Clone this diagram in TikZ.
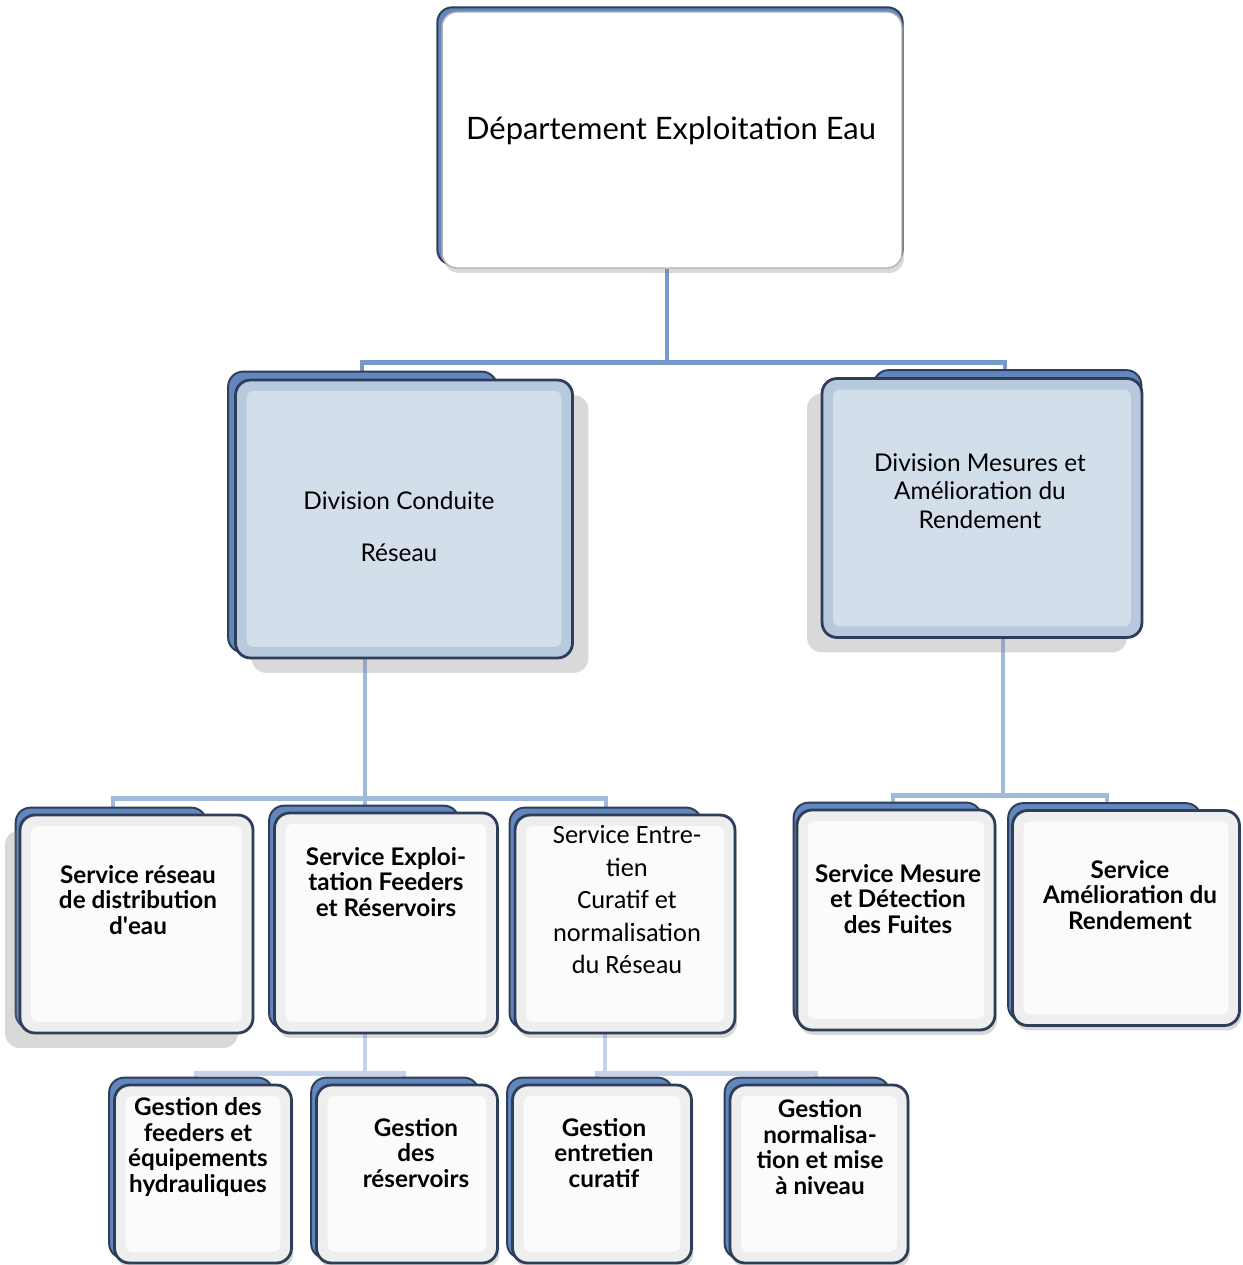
\documentclass[tikz,border=0pt]{standalone}
\usepackage{fontspec}
\setmainfont{Lato}
\newfontfamily\calibri{Carlito}
\usetikzlibrary{shadows,backgrounds,calc}
\definecolor{edgeblue}{HTML}{2E3D58}
\definecolor{tabblue}{HTML}{6187BE}
\definecolor{linkblue}{HTML}{7698CB}
\definecolor{linkmid}{HTML}{A2B9DE}
\definecolor{linkpale}{HTML}{C4D3EA}
\definecolor{divfill}{HTML}{D3DEEB}
\definecolor{divedge}{HTML}{B9C9DD}
\newcommand{\bevel}[1]{\fill[#1, rounded corners=4pt]
  ([shift={(0.22cm,-0.22cm)}]path picture bounding box.north west) rectangle
  ([shift={(-0.22cm,0.22cm)}]path picture bounding box.south east);}
\tikzset{
  card/.style={draw=edgeblue, line width=1.6pt, rounded corners=0.3cm, inner sep=0pt},
  whitecard/.style={card, fill=gray!13, path picture={\bevel{gray!3}}},
  divcard/.style={card, fill=divedge, path picture={\bevel{divfill}}},
  topcard/.style={card, draw=gray!60, line width=0.8pt, fill=white},
  shadowR/.style={drop shadow={shadow xshift=0.32cm, shadow yshift=-0.3cm, opacity=0.3}},
  shadowL/.style={drop shadow={shadow xshift=-0.3cm, shadow yshift=-0.3cm, opacity=0.3}},
  shadowS/.style={drop shadow={shadow xshift=0.04cm, shadow yshift=-0.1cm, opacity=0.3}},
  tab/.style={draw=edgeblue, line width=1.1pt, fill=tabblue, rounded corners=0.3cm},
  link/.style={draw=linkblue, line width=2.8pt},
  linkB/.style={draw=linkmid, line width=2.8pt},
  linkC/.style={draw=linkpale, line width=2.8pt},
  headtxt/.style={align=center, font=\fontsize{17.6}{21}\selectfont},
  divtxt/.style={align=center, font=\fontsize{13.9}{16.4}\selectfont},
  svctxt/.style={align=center, font=\bfseries\fontsize{13.8}{14.7}\selectfont},
  entxt/.style={align=center, font=\calibri\fontsize{15}{18.5}\selectfont}
}
\begin{document}
\begin{tikzpicture}[x=0.02cm, y=-0.02cm]
\useasboundingbox (0,0) rectangle (1242,1265);

% boxes
\node[topcard, shadowS, minimum width=9.2cm, minimum height=5.12cm] (dep) at (672,140) {};
\node[divcard, shadowR, minimum width=6.74cm, minimum height=5.56cm] (div1) at (404,519) {};
\node[divcard, shadowL, minimum width=6.4cm, minimum height=5.18cm] (div2) at (982,508) {};
\node[whitecard, shadowL, minimum width=4.66cm, minimum height=4.36cm] (s1) at (136.5,924) {};
\node[whitecard, shadowS, minimum width=4.46cm, minimum height=4.4cm] (s2) at (386,923) {};
\node[whitecard, shadowS, minimum width=4.4cm, minimum height=4.36cm] (s3) at (625,924) {};
\node[whitecard, shadowS, minimum width=3.96cm, minimum height=4.4cm] (s4) at (896,920) {};
\node[whitecard, shadowS, minimum width=4.54cm, minimum height=4.3cm] (s5) at (1126,918) {};
\node[whitecard, shadowS, minimum width=3.54cm, minimum height=3.56cm] (g1) at (203,1174) {};
\node[whitecard, shadowS, minimum width=3.62cm, minimum height=3.56cm] (g2) at (407,1174) {};
\node[whitecard, shadowS, minimum width=3.58cm, minimum height=3.56cm] (g3) at (602,1174) {};
\node[whitecard, shadowS, minimum width=3.56cm, minimum height=3.56cm] (g4) at (819,1174) {};

% texts
\node[headtxt] (dept) at (671,131) {Département Exploitation Eau};
\node[divtxt, font=\fontsize{13.9}{29.5}\selectfont] (div1t) at (399,527) {Division Conduite\\Réseau};
\node[divtxt] (div2t) at (980,491) {Division Mesures et\\Amélioration du\\Rendement};
\node[svctxt] (s1t) at (138,900) {Service réseau\\de distribution\\d\textquotesingle eau};
\node[svctxt] (s2t) at (386,882) {Service Exploi-\\tation Feeders\\et Réservoirs};
\node[entxt] (s3t) at (627,900) {Service Entre-\\tien\\Curatif et\\normalisation\\du Réseau};
\node[svctxt] (s4t) at (898,899) {Service Mesure\\et Détection\\des Fuites};
\node[svctxt] (s5t) at (1130,895) {Service\\Amélioration du\\Rendement};
\node[svctxt] (g1t) at (198,1147) {Gestion des\\feeders et\\équipements\\hydrauliques};
\node[svctxt] (g2t) at (416,1153) {Gestion\\des\\réservoirs};
\node[svctxt] (g3t) at (604,1153) {Gestion\\entretien\\curatif};
\node[svctxt] (g4t) at (820,1147) {Gestion\\normalisa-\\tion et mise\\à niveau};

\begin{scope}[on background layer]
% connectors
\draw[link] ($(dep.south)+(-5,0)$) -- ++(0,94) coordinate (hub1);
\draw[link] ($(div1.north)+(-42,0)$) |- (hub1) -| ($(div2.north)+(23,0)$);
\draw[linkB] ($(div1.south)+(-39,0)$) -- ++(0,139) coordinate (hub2) -- ($(s2.north)+(-21,0)$);
\draw[linkB] ($(s1.north)+(-23.5,0)$) |- (hub2) -| ($(s3.north)+(-19,0)$);
\draw[linkB] ($(div2.south)+(21,0)$) -- ++(0,157) coordinate (hub3);
\draw[linkB] ($(s4.north)+(-3,0)$) |- (hub3) -| ($(s5.north)+(-19,0)$);
\draw[linkC] ($(s2.south)+(-21,0)$) -- ++(0,39) coordinate (hub4);
\draw[linkC] ($(g1.north)+(-7,0)$) |- (hub4) -| ($(g2.north)+(-3,0)$);
\draw[linkC] ($(s3.south)+(-20,0)$) -- ++(0,39) coordinate (hub5);
\draw[linkC] ($(g3.north)+(-5,0)$) |- (hub5) -| ($(g4.north)+(-3,0)$);
% blue cards behind
\foreach \b/\l/\r/\u in {dep/-4/0/4, div1/-6/-77/7, div2/53/-2/7, s1/-3/-48/6,
    s2/-4/-40/6, s3/-4/-35/6, s4/-2/-15/6, s5/-3/-40/6,
    g1/-4/-20/6, g2/-4/-20/6, g3/-4/-20/6, g4/-4/-20/6}
  \draw[tab] ($(\b.north west)+(\l,-\u)$) rectangle ($(\b.south east)+(\r,-\u)$);
\end{scope}
\end{tikzpicture}
\end{document}
